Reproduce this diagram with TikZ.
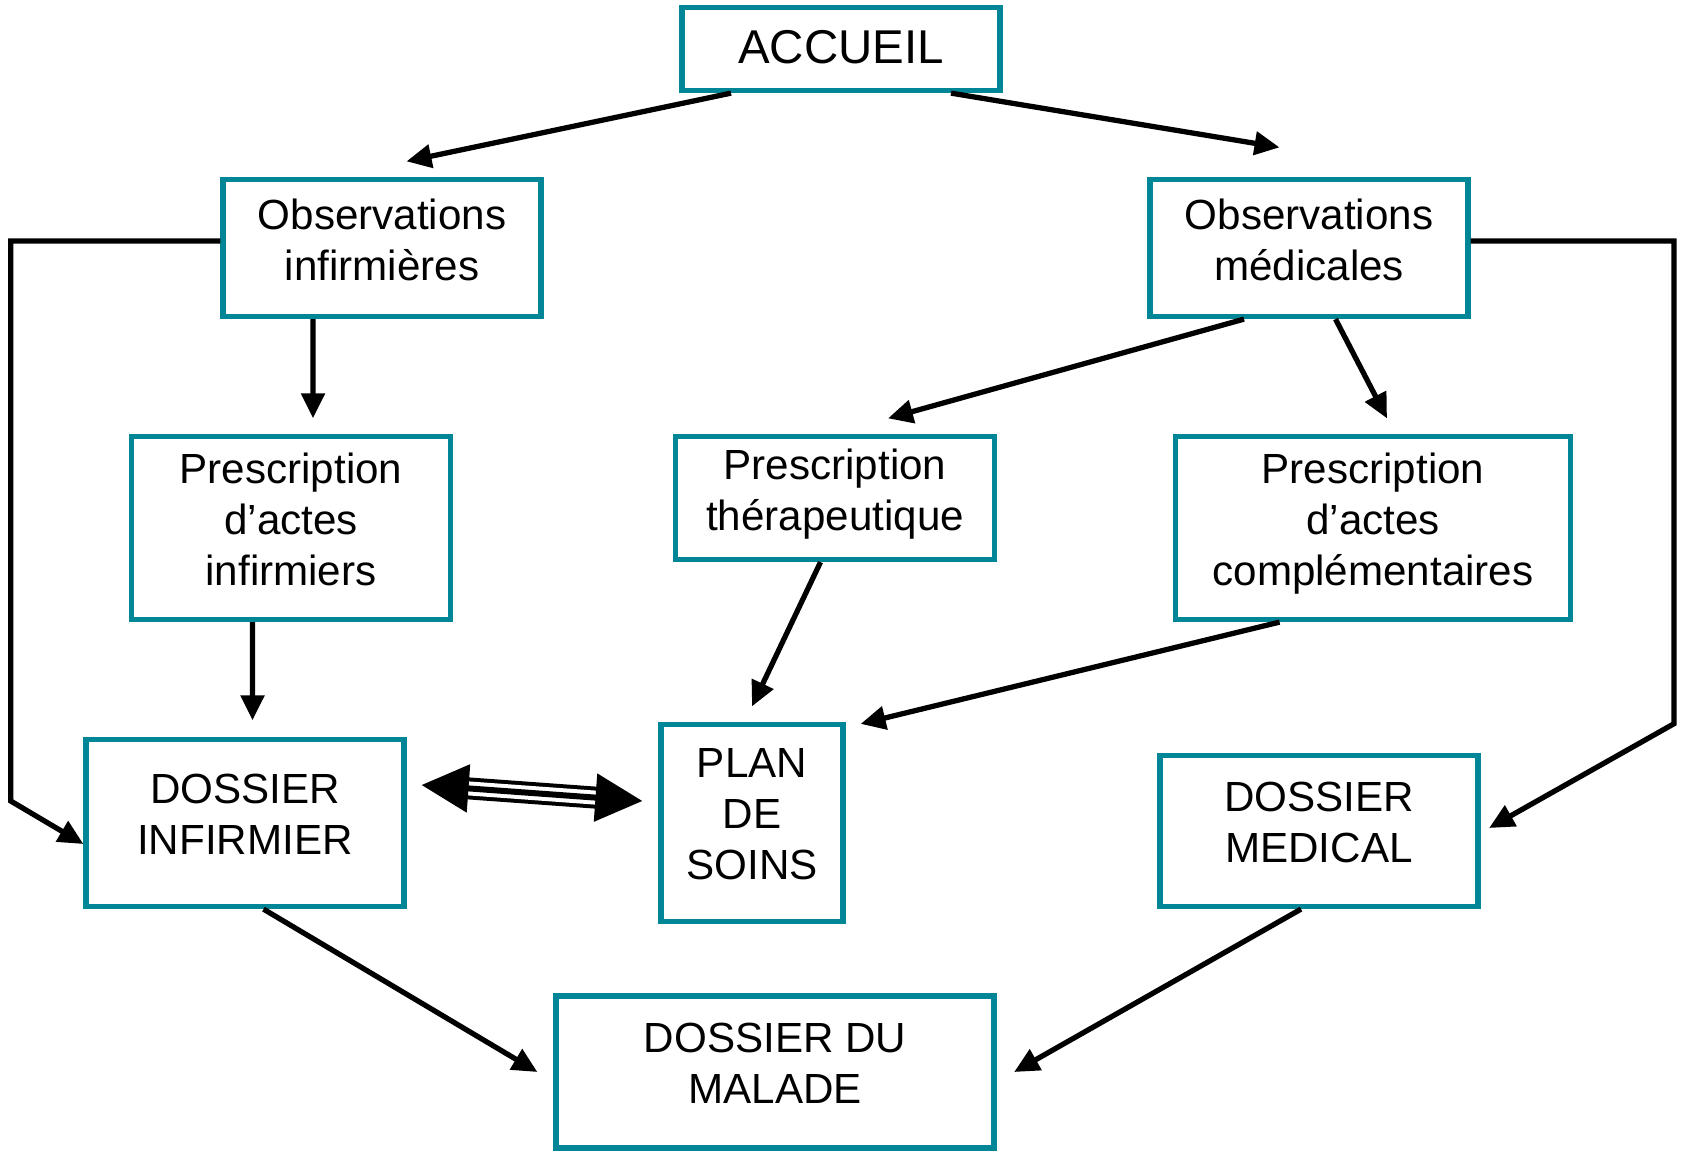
\documentclass[tikz,border=0pt]{standalone}
\usepackage{fontspec}
\setmainfont{Liberation Sans}
\usetikzlibrary{arrows.meta}
\definecolor{boxteal}{RGB}{0,134,150}
\begin{document}
\begin{tikzpicture}[x=0.02cm, y=-0.02cm]
    % Define styles
    \tikzset{
        flowbox/.style={draw=boxteal, line width=3pt, inner sep=0pt, align=center, text depth=9.8pt, font=\fontsize{24}{29}\selectfont},
        thickarrow/.style={-{Triangle[length=0.5cm, width=0.46cm]}, line width=3pt},
        linkarrow/.style={line width=0.12cm, {Triangle[length=0.94cm, width=0.94cm]}-{Triangle[length=0.94cm, width=0.94cm]},
            preaction={draw, arrows=-, line width=0.44cm, shorten <=0.8cm, shorten >=0.8cm},
            preaction={draw, white, arrows=-, line width=0.28cm, shorten <=0.8cm, shorten >=0.8cm}}
    }
    \useasboundingbox (0,0) rectangle (1686,1155);

    % Top of the chart
    \node[flowbox, minimum width=6.36cm, minimum height=1.66cm, text depth=2.5pt, font=\fontsize{27}{32}\selectfont] (accueil) at (841,49) {ACCUEIL};

    % Observations
    \node[flowbox, minimum width=6.36cm, minimum height=2.74cm] (obsinf) at (382,248) {Observations\\infirmières};
    \node[flowbox, minimum width=6.36cm, minimum height=2.74cm] (obsmed) at (1309,248) {Observations\\médicales};

    % Prescriptions
    \node[flowbox, minimum width=6.38cm, minimum height=3.66cm] (prescinf) at (291,528) {Prescription\\d’actes\\infirmiers};
    \node[flowbox, minimum width=6.38cm, minimum height=2.46cm] (prescther) at (835,498) {Prescription\\thérapeutique};
    \node[flowbox, minimum width=7.9cm, minimum height=3.66cm] (presccomp) at (1373,528) {Prescription\\d’actes\\complémentaires};

    % Dossiers and plan
    \node[flowbox, minimum width=6.36cm, minimum height=3.34cm] (dossinf) at (245,823) {DOSSIER\\INFIRMIER};
    \node[flowbox, minimum width=3.64cm, minimum height=3.94cm] (plan) at (752,823) {PLAN\\DE\\SOINS};
    \node[flowbox, minimum width=6.36cm, minimum height=3.02cm] (dossmed) at (1319,831) {DOSSIER\\MEDICAL};
    \node[flowbox, minimum width=8.76cm, minimum height=3.04cm] (dossmal) at (775,1072) {DOSSIER DU\\MALADE};

    % Bends of the side lines
    \coordinate (leftbend) at (10.75,801);
    \coordinate (rightbend) at (1674,723.7);

    % Arrows from the top
    \draw[thickarrow] ([xshift=-2.2cm]accueil.south) -- ([xshift=0.49cm, yshift=0.31cm]obsinf.north);
    \draw[thickarrow] ([xshift=2.2cm]accueil.south) -- ([xshift=-0.59cm, yshift=0.59cm]obsmed.north);

    % Nursing side
    \draw[thickarrow] ([xshift=-1.38cm]obsinf.south) -- ([xshift=0.44cm, yshift=0.31cm]prescinf.north);
    \draw[thickarrow] ([xshift=-0.77cm]prescinf.south) -- ([xshift=0.15cm, yshift=0.33cm]dossinf.north);
    \draw[thickarrow] ([yshift=0.14cm]obsinf.west) -| (leftbend) -- ([yshift=-0.42cm]dossinf.west);

    % Medical side
    \draw[thickarrow] ([yshift=0.14cm]obsmed.east) -| (rightbend) -- ([xshift=0.17cm, yshift=0.06cm]dossmed.east);
    \draw[thickarrow] ([xshift=-1.3cm]obsmed.south) -- ([xshift=1.06cm, yshift=0.31cm]prescther.north);
    \draw[thickarrow] ([xshift=0.53cm]obsmed.south) -- ([xshift=0.28cm, yshift=0.31cm]presccomp.north);

    % Into the plan
    \draw[thickarrow] ([xshift=-0.29cm]prescther.south) -- ([yshift=0.31cm]plan.north);
    \draw[thickarrow] ([xshift=-1.87cm]presccomp.south) -- ([xshift=0.3cm, yshift=-0.04cm]plan.north east);
    \draw[linkarrow] ([xshift=0.3cm, yshift=0.76cm]dossinf.east) -- ([xshift=-0.32cm, yshift=0.44cm]plan.west);

    % Into the patient file
    \draw[thickarrow] ([xshift=0.37cm]dossinf.south) -- ([xshift=-0.32cm]dossmal.west);
    \draw[thickarrow] ([xshift=-0.36cm]dossmed.south) -- ([xshift=0.35cm]dossmal.east);

\end{tikzpicture}
\end{document}
